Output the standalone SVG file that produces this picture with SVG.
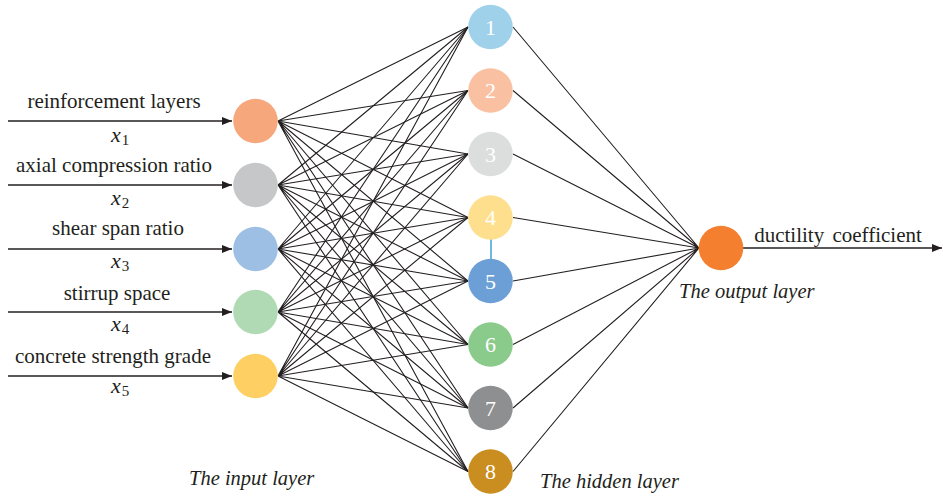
<svg xmlns="http://www.w3.org/2000/svg" width="943" height="496" viewBox="0 0 943 496">
<defs>
<marker id="arr" viewBox="0 0 10 8" refX="10" refY="4" markerWidth="10" markerHeight="8" markerUnits="userSpaceOnUse" orient="auto">
<path d="M0,0 L10,4 L0,8 Z" fill="#231f20"/>
</marker>
</defs>
<style>
.lbl{font-family:"Liberation Serif","Times New Roman",serif;font-size:21px;fill:#231f20;text-anchor:middle}
.var{font-family:"Liberation Serif","Times New Roman",serif;font-size:22px;font-style:italic;fill:#231f20}
.sub{font-family:"Liberation Serif","Times New Roman",serif;font-size:15px;font-style:normal;fill:#231f20}
.cap{font-family:"Liberation Serif","Times New Roman",serif;font-size:20.5px;font-style:italic;fill:#231f20}
.num{font-family:"Liberation Serif","Times New Roman",serif;font-size:22px;fill:#ffffff;text-anchor:middle}
.ln{stroke:#231f20;stroke-width:1.1;fill:none}
.arrow{stroke:#231f20;stroke-width:1.3;fill:none;marker-end:url(#arr)}
</style>
<rect width="943" height="496" fill="#ffffff"/>
<g id="connectors">
<g id="input-hidden" class="ln">
<path d="M278,121 L468,27 M278,121 L468,90.5 M278,121 L468,154 M278,121 L468,217.5 M278,121 L468,281 M278,121 L468,344.5 M278,121 L468,408 M278,121 L468,471.5"/>
<path d="M278,185 L468,27 M278,185 L468,90.5 M278,185 L468,154 M278,185 L468,217.5 M278,185 L468,281 M278,185 L468,344.5 M278,185 L468,408 M278,185 L468,471.5"/>
<path d="M278,249 L468,27 M278,249 L468,90.5 M278,249 L468,154 M278,249 L468,217.5 M278,249 L468,281 M278,249 L468,344.5 M278,249 L468,408 M278,249 L468,471.5"/>
<path d="M278,312 L468,27 M278,312 L468,90.5 M278,312 L468,154 M278,312 L468,217.5 M278,312 L468,281 M278,312 L468,344.5 M278,312 L468,408 M278,312 L468,471.5"/>
<path d="M278,376 L468,27 M278,376 L468,90.5 M278,376 L468,154 M278,376 L468,217.5 M278,376 L468,281 M278,376 L468,344.5 M278,376 L468,408 M278,376 L468,471.5"/>
</g>
<g id="hidden-output" class="ln">
<path d="M513,27 L699,248 M513,90.5 L699,248 M513,154 L699,248 M513,217.5 L699,248 M513,281 L699,248 M513,344.5 L699,248 M513,408 L699,248 M513,471.5 L699,248"/>
</g>
<line id="link-4-5" x1="491" y1="239" x2="491" y2="259" stroke="#4aa8dc" stroke-width="1.6"/>
<g id="input-arrows">
<line class="arrow" x1="8" y1="121" x2="232" y2="121"/>
<line class="arrow" x1="8" y1="185" x2="232" y2="185"/>
<line class="arrow" x1="8" y1="249" x2="232" y2="249"/>
<line class="arrow" x1="8" y1="312" x2="232" y2="312"/>
<line class="arrow" x1="8" y1="376" x2="232" y2="376"/>
</g>
<line id="output-arrow" class="arrow" x1="743" y1="248" x2="942" y2="248"/>
</g>
<g id="in1"><circle cx="255.5" cy="121" r="22.3" fill="#f6a77b"/></g>
<g id="in2"><circle cx="255.5" cy="185" r="22.3" fill="#c6c7c8"/></g>
<g id="in3"><circle cx="255.5" cy="249" r="22.3" fill="#9dbfe3"/></g>
<g id="in4"><circle cx="255.5" cy="312" r="22.3" fill="#b0dab4"/></g>
<g id="in5"><circle cx="255.5" cy="376" r="22.3" fill="#fed063"/></g>
<g id="h1"><circle cx="490.5" cy="27" r="22.3" fill="#9fd1eb"/><text class="num" x="490.5" y="34.5">1</text></g>
<g id="h2"><circle cx="490.5" cy="90.5" r="22.3" fill="#f9c1a2"/><text class="num" x="490.5" y="98">2</text></g>
<g id="h3"><circle cx="490.5" cy="154" r="22.3" fill="#dcdddd"/><text class="num" x="490.5" y="161.5">3</text></g>
<g id="h4"><circle cx="490.5" cy="217.5" r="22.3" fill="#fedf8e"/><text class="num" x="490.5" y="225">4</text></g>
<g id="h5"><circle cx="490.5" cy="281" r="22.3" fill="#6c9fd6"/><text class="num" x="490.5" y="288.5">5</text></g>
<g id="h6"><circle cx="490.5" cy="344.5" r="22.3" fill="#8aca8b"/><text class="num" x="490.5" y="352">6</text></g>
<g id="h7"><circle cx="490.5" cy="408" r="22.3" fill="#8e8f91"/><text class="num" x="490.5" y="415.5">7</text></g>
<g id="h8"><circle cx="490.5" cy="471.5" r="22.3" fill="#c98e1f"/><text class="num" x="490.5" y="479">8</text></g>
<g id="out"><circle cx="721" cy="248" r="22.3" fill="#f47f2f"/></g>
<g id="labels">
<text class="lbl" x="114" y="108">reinforcement layers</text>
<text class="var" x="111" y="142">x<tspan class="sub" dx="1" dy="3">1</tspan></text>
<text class="lbl" x="114" y="172">axial compression ratio</text>
<text class="var" x="111" y="205">x<tspan class="sub" dx="1" dy="3">2</tspan></text>
<text class="lbl" x="118" y="235">shear span ratio</text>
<text class="var" x="111" y="268">x<tspan class="sub" dx="1" dy="3">3</tspan></text>
<text class="lbl" x="117" y="300">stirrup space</text>
<text class="var" x="111" y="331">x<tspan class="sub" dx="1" dy="3">4</tspan></text>
<text class="lbl" x="113" y="363">concrete strength grade</text>
<text class="var" x="111" y="393">x<tspan class="sub" dx="1" dy="3">5</tspan></text>
<text class="lbl" x="838" y="242" style="word-spacing:3px">ductility coefficient</text>
<text class="cap" x="679" y="298">The output layer</text>
<text class="cap" x="540" y="488">The hidden layer</text>
<text class="cap" x="189" y="485">The input layer</text>
</g>
</svg>
